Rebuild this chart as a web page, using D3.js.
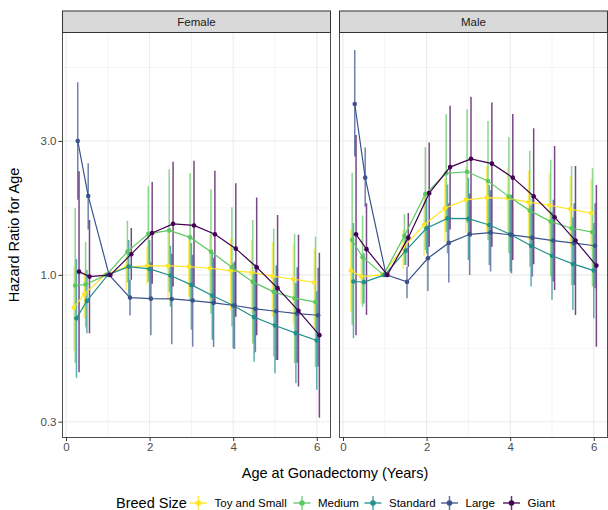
<!DOCTYPE html>
<html><head><meta charset="utf-8">
<script src="https://cdn.jsdelivr.net/npm/d3@7"></script>
<style>body{margin:0;background:#fff}svg{display:block;font-family:Arial,"Liberation Sans",sans-serif}</style>
</head><body>
<svg id="chart" width="608" height="510"></svg>
<script>
// ---------- DATA ----------
const ages = [0.25, 0.5, 1, 1.5, 2, 2.5, 3, 3.5, 4, 4.5, 5, 5.5, 6];
const breedSizes = ["Toy and Small", "Medium", "Standard", "Large", "Giant"];
const breedColors = ["#FDE725", "#5DC863", "#21908C", "#3B528B", "#440154"];
const sexes = ["Female", "Male"];
const yTicks = [0.3, 1.0, 3.0];
const xTicks = [0, 2, 4, 6];

// Female
const femToyHR  = [0.765, 0.854, 1, 1.065, 1.077, 1.077, 1.07, 1.056, 1.036, 1.02, 0.99, 0.965, 0.94];
const femToyLo  = [0.537, 0.70, 1, 0.884, 0.925, 0.815, 0.837, 0.79, 0.75, 0.73, 0.71, 0.673, 0.637];
const femToyHi  = [1.08, 1.03, 1, 1.16, 1.26, 1.45, 1.33, 1.39, 1.35, 1.33, 1.31, 1.28, 1.24];
const femMedHR  = [0.916, 0.924, 1, 1.21, 1.40, 1.44, 1.36, 1.21, 1.065, 0.944, 0.87, 0.826, 0.80];
const femMedLo  = [0.486, 0.65, 1, 0.94, 0.946, 0.87, 0.805, 0.726, 0.655, 0.57, 0.512, 0.485, 0.47];
const femMedHi  = [1.73, 1.31, 1, 1.56, 2.07, 2.38, 2.30, 2.02, 1.74, 1.57, 1.46, 1.40, 1.37];
const femStdHR  = [0.70, 0.808, 1, 1.07, 1.05, 0.995, 0.921, 0.844, 0.778, 0.707, 0.66, 0.62, 0.584];
const femStdLo  = [0.43, 0.62, 1, 0.85, 0.815, 0.77, 0.637, 0.587, 0.548, 0.49, 0.446, 0.411, 0.39];
const femStdHi  = [1.14, 1.04, 1, 1.33, 1.33, 1.27, 1.30, 1.21, 1.10, 1.02, 0.977, 0.935, 0.875];
const femLrgHR  = [3.0, 1.91, 1, 0.83, 0.823, 0.821, 0.81, 0.795, 0.778, 0.757, 0.742, 0.728, 0.718];
const femLrgLo  = [1.85, 1.45, 1, 0.716, 0.61, 0.566, 0.555, 0.553, 0.545, 0.53, 0.498, 0.486, 0.472];
const femLrgHi  = [4.85, 2.50, 1, 0.96, 1.11, 1.19, 1.18, 1.15, 1.115, 1.09, 1.08, 1.065, 1.06];
const femGntHR  = [1.027, 0.986, 1, 1.185, 1.41, 1.52, 1.50, 1.396, 1.24, 1.065, 0.897, 0.745, 0.61];
const femGntLo  = [0.45, 0.62, 1, 0.96, 0.929, 0.909, 0.909, 0.79, 0.71, 0.61, 0.498, 0.40, 0.31];
const femGntHi  = [2.34, 1.57, 1, 1.47, 2.14, 2.53, 2.55, 2.35, 2.12, 1.885, 1.635, 1.39, 1.2];

// Male
const malToyHR  = [1.036, 0.986, 1, 1.25, 1.506, 1.727, 1.85, 1.885, 1.875, 1.815, 1.77, 1.715, 1.66];
const malToyLo  = [0.74, 0.79, 1, 1.05, 1.17, 1.31, 1.41, 1.41, 1.39, 1.33, 1.30, 1.26, 1.23];
const malToyHi  = [1.45, 1.195, 1, 1.45, 1.95, 2.21, 2.43, 2.44, 2.40, 2.35, 2.30, 2.24, 2.19];
const malMedHR  = [1.33, 1.156, 1, 1.377, 1.94, 2.30, 2.33, 2.16, 1.90, 1.694, 1.548, 1.466, 1.42];
const malMedLo  = [0.664, 0.77, 1, 1.085, 1.23, 1.42, 1.53, 1.33, 1.195, 1.07, 0.986, 0.921, 0.909];
const malMedHi  = [2.31, 1.626, 1, 1.645, 2.85, 3.74, 3.89, 3.53, 3.09, 2.77, 2.57, 2.44, 2.4];
const malStdHR  = [0.947, 0.942, 1, 1.22, 1.466, 1.59, 1.585, 1.506, 1.395, 1.27, 1.17, 1.094, 1.036];
const malStdLo  = [0.595, 0.79, 1, 1.085, 1.195, 1.195, 1.13, 1.085, 1.028, 0.909, 0.815, 0.75, 0.70];
const malStdHi  = [1.53, 1.195, 1, 1.37, 1.85, 2.1, 2.22, 2.09, 1.89, 1.77, 1.68, 1.6, 1.53];
const malLrgHR  = [4.06, 2.22, 1, 0.944, 1.146, 1.30, 1.395, 1.415, 1.388, 1.357, 1.325, 1.297, 1.27];
const malLrgLo  = [2.64, 1.75, 1, 0.826, 0.877, 0.939, 1.0, 1.028, 1.014, 0.986, 0.947, 0.921, 0.897];
const malLrgHi  = [6.32, 2.84, 1, 1.07, 1.5, 1.8, 1.95, 2.0, 1.93, 1.90, 1.85, 1.8, 1.8];
const malGntHR  = [1.395, 1.235, 1, 1.357, 1.955, 2.42, 2.59, 2.49, 2.22, 1.906, 1.605, 1.325, 1.079];
const malGntLo  = [0.61, 0.72, 1, 1.07, 1.26, 1.45, 1.37, 1.26, 1.13, 1.09, 0.884, 0.72, 0.555];
const malGntHi  = [3.15, 1.80, 1, 1.66, 2.96, 4.0, 4.31, 4.11, 3.74, 3.33, 2.88, 2.44, 2.09];

const seriesBySex = {
  Female: [[femToyHR, femToyLo, femToyHi], [femMedHR, femMedLo, femMedHi], [femStdHR, femStdLo, femStdHi], [femLrgHR, femLrgLo, femLrgHi], [femGntHR, femGntLo, femGntHi]],
  Male:   [[malToyHR, malToyLo, malToyHi], [malMedHR, malMedLo, malMedHi], [malStdHR, malStdLo, malStdHi], [malLrgHR, malLrgLo, malLrgHi], [malGntHR, malGntLo, malGntHi]]
};

// ---------- LAYOUT ----------
const svg = d3.select("#chart");
const panelTop = 32.5, panelBottom = 437.5, stripTop = 11;
const panels = [{sex: "Female", x0: 62, x1: 331}, {sex: "Male", x0: 339, x1: 608}];
const dodgeStep = 0.031;

const y = d3.scaleLog().domain([0.2635, 7.30]).range([panelBottom, panelTop]);
const yMinor = [Math.sqrt(0.3 * 0.1), Math.sqrt(0.3), Math.sqrt(3), Math.sqrt(30)];

panels.forEach(p => {
  const x = d3.scaleLinear().domain([-0.0957, 6.34]).range([p.x0, p.x1]);
  const g = svg.append("g");
  // background
  g.append("rect").attr("x", p.x0).attr("y", panelTop).attr("width", p.x1 - p.x0).attr("height", panelBottom - panelTop).attr("fill", "#fff");
  // minor grid
  g.selectAll(".xmin").data([1, 3, 5]).join("line")
    .attr("x1", d => x(d)).attr("x2", d => x(d)).attr("y1", panelTop).attr("y2", panelBottom)
    .attr("stroke", "#EBEBEB").attr("stroke-width", 0.55);
  g.selectAll(".ymin").data(yMinor.filter(v => y(v) > panelTop && y(v) < panelBottom)).join("line")
    .attr("x1", p.x0).attr("x2", p.x1).attr("y1", d => y(d)).attr("y2", d => y(d))
    .attr("stroke", "#EBEBEB").attr("stroke-width", 0.55);
  // major grid
  g.selectAll(".xmaj").data(xTicks).join("line")
    .attr("x1", d => x(d)).attr("x2", d => x(d)).attr("y1", panelTop).attr("y2", panelBottom)
    .attr("stroke", "#EBEBEB").attr("stroke-width", 1.1);
  g.selectAll(".ymaj").data(yTicks).join("line")
    .attr("x1", p.x0).attr("x2", p.x1).attr("y1", d => y(d)).attr("y2", d => y(d))
    .attr("stroke", "#EBEBEB").attr("stroke-width", 1.1);

  const series = seriesBySex[p.sex];
  const clipId = "clip" + p.sex;
  svg.append("clipPath").attr("id", clipId).append("rect")
    .attr("x", p.x0).attr("y", panelTop).attr("width", p.x1 - p.x0).attr("height", panelBottom - panelTop);
  const dg = g.append("g").attr("clip-path", `url(#${clipId})`);

  series.forEach((s, si) => {
    const [hr, lo, hi] = s;
    const off = (si - 2) * dodgeStep;
    const pts = ages.map((a, i) => ({a: a + off, hr: hr[i], lo: lo[i], hi: hi[i]}));
    // error bars
    dg.append("g").selectAll("line").data(pts.filter(d => d.hi > d.lo)).join("line")
      .attr("x1", d => x(d.a)).attr("x2", d => x(d.a))
      .attr("y1", d => y(d.lo)).attr("y2", d => y(d.hi))
      .attr("stroke", breedColors[si]).attr("stroke-width", 1.5).attr("stroke-opacity", 0.72);
  });
  series.forEach((s, si) => {
    const [hr] = s;
    const off = (si - 2) * dodgeStep;
    const pts = ages.map((a, i) => ({a: a + off, hr: hr[i]}));
    dg.append("path").datum(pts)
      .attr("d", d3.line().x(d => x(d.a)).y(d => y(d.hr)))
      .attr("fill", "none").attr("stroke", breedColors[si]).attr("stroke-width", 1.2);
    dg.append("g").selectAll("circle").data(pts).join("circle")
      .attr("cx", d => x(d.a)).attr("cy", d => y(d.hr)).attr("r", 2.3)
      .attr("fill", breedColors[si]);
  });

  // panel border
  g.append("rect").attr("x", p.x0 + 0.5).attr("y", panelTop).attr("width", p.x1 - p.x0 - 1).attr("height", panelBottom - panelTop)
    .attr("fill", "none").attr("stroke", "#4D4D4D").attr("stroke-width", 1);
  // strip
  g.append("rect").attr("x", p.x0 + 0.5).attr("y", stripTop).attr("width", p.x1 - p.x0 - 1).attr("height", panelTop - stripTop)
    .attr("fill", "#D9D9D9").attr("stroke", "#333333").attr("stroke-width", 1);
  g.append("text").attr("x", (p.x0 + p.x1) / 2).attr("y", (stripTop + panelTop) / 2).attr("dy", "0.35em")
    .attr("text-anchor", "middle").attr("font-size", 11.5).attr("fill", "#1A1A1A").text(p.sex);

  // x axis
  const xa = g.append("g").attr("transform", `translate(0,${panelBottom})`)
    .call(d3.axisBottom(x).tickValues(xTicks).tickSize(3.5).tickPadding(2).tickFormat(d3.format("d")));
  xa.select(".domain").remove();
  xa.selectAll(".tick line").attr("stroke", "#333333").attr("stroke-width", 1);
  xa.selectAll(".tick text").attr("font-size", 11.5).attr("fill", "#4D4D4D").attr("font-family", "Arial,'Liberation Sans',sans-serif");
});

// y axis
const ya = svg.append("g").attr("transform", `translate(62,0)`)
  .call(d3.axisLeft(y).tickValues(yTicks).tickSize(3.5).tickPadding(2).tickFormat(d3.format(".1f")));
ya.select(".domain").remove();
ya.selectAll(".tick line").attr("stroke", "#333333").attr("stroke-width", 1);
ya.selectAll(".tick text").attr("font-size", 11.5).attr("fill", "#4D4D4D").attr("font-family", "Arial,'Liberation Sans',sans-serif");

// axis titles
svg.append("text").attr("x", 335).attr("y", 478).attr("text-anchor", "middle")
  .attr("font-size", 14.5).attr("fill", "#000").text("Age at Gonadectomy (Years)");
svg.append("text").attr("transform", `translate(19,${(panelTop + panelBottom) / 2}) rotate(-90)`)
  .attr("text-anchor", "middle").attr("font-size", 14.5).attr("fill", "#000").text("Hazard Ratio for Age");

// legend
const legY = 503;
const leg = svg.append("g");
leg.append("text").attr("x", 116).attr("y", legY).attr("dy", "0.35em").attr("font-size", 14.5).text("Breed Size");
const keyX = [198.5, 302, 373, 449.5, 511.5];
breedSizes.forEach((b, i) => {
  const kx = keyX[i];
  leg.append("line").attr("x1", kx - 8.5).attr("x2", kx + 8.5).attr("y1", legY).attr("y2", legY)
    .attr("stroke", breedColors[i]).attr("stroke-width", 1.3);
  leg.append("line").attr("x1", kx).attr("x2", kx).attr("y1", legY - 7).attr("y2", legY + 7)
    .attr("stroke", breedColors[i]).attr("stroke-width", 1.5).attr("stroke-opacity", 0.8);
  leg.append("circle").attr("cx", kx).attr("cy", legY).attr("r", 2.8).attr("fill", breedColors[i]);
  leg.append("text").attr("x", kx + 16).attr("y", legY).attr("dy", "0.35em").attr("font-size", 11.5).attr("fill", "#000").text(b);
});
</script>
</body></html>
